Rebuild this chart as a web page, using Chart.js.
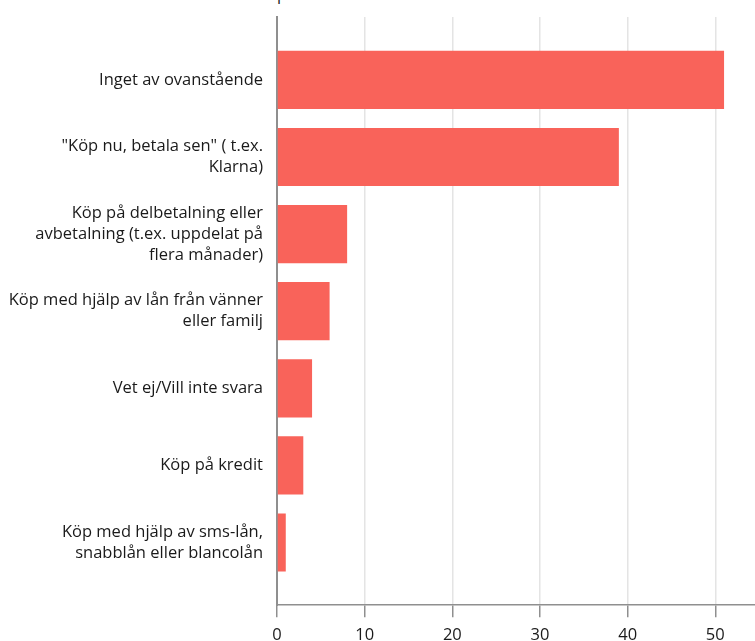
<!DOCTYPE html>
<html lang="sv">
<head>
    <meta charset="UTF-8">
    <title>Köpsätt</title>
    <script src="https://cdn.jsdelivr.net/npm/chart.js"></script>
    <style>
        html, body { margin: 0; padding: 0; background: #fff; overflow: hidden; }
        body { width: 755px; height: 641px; position: relative; font-family: "Open Sans", Arial, sans-serif; }
        #unit { position: absolute; left: 277px; top: -16px; font-size: 16px; line-height: 20px; color: #222; }
        #wrap { position: absolute; left: 0; top: 0; width: 755px; height: 660px; }
    </style>
</head>
<body>
    <div id="unit">procent</div>
    <div id="wrap"><canvas id="answersChart"></canvas></div>

    <script>
        // svarsalternativ, uppifrån och ned
        const categories = [
            ['Inget av ovanstående'],
            ['"Köp nu, betala sen" ( t.ex.', 'Klarna)'],
            ['Köp på delbetalning eller', 'avbetalning (t.ex. uppdelat på', 'flera månader)'],
            ['Köp med hjälp av lån från vänner', 'eller familj'],
            ['Vet ej/Vill inte svara'],
            ['Köp på kredit'],
            ['Köp med hjälp av sms-lån,', 'snabblån eller blancolån']
        ];
        // andel i procent
        const shares = [51, 39, 8, 6, 4, 3, 1];
        const xTicks = [0, 10, 20, 30, 40, 50];

        const barColor = '#f9635a';
        const axisColor = '#8f8f8f';
        const textColor = '#1a1a1a';
        const labelFont = '"Open Sans", Arial, sans-serif';

        const points = shares.map((v, i) => ({ x: v, y: i }));

        const ctx = document.getElementById('answersChart').getContext('2d');
        new Chart(ctx, {
            type: 'bar',
            data: {
                datasets: [{
                    data: points,
                    backgroundColor: barColor,
                    borderWidth: 0,
                    categoryPercentage: 1,
                    barPercentage: 0.755
                }]
            },
            options: {
                indexAxis: 'y',
                responsive: true,
                maintainAspectRatio: false,
                animation: false,
                layout: { padding: { top: 17, right: 0, bottom: 7, left: 0 } },
                plugins: {
                    legend: { display: false },
                    tooltip: { enabled: false }
                },
                scales: {
                    x: {
                        type: 'linear',
                        min: 0,
                        max: 54.53,
                        afterBuildTicks: s => { s.ticks = xTicks.map(v => ({ value: v })); },
                        grid: {
                            color: '#e4e4e4',
                            lineWidth: 1.5,
                            tickColor: axisColor,
                            tickLength: 12,
                            drawTicks: true
                        },
                        border: { display: true, color: axisColor, width: 1.5 },
                        ticks: {
                            color: textColor,
                            padding: 8,
                            font: { family: labelFont, size: 16.5 }
                        }
                    },
                    y: {
                        type: 'linear',
                        reverse: true,
                        offset: false,
                        min: -0.816,
                        max: 6.813,
                        afterBuildTicks: s => { s.ticks = categories.map((_, i) => ({ value: i })); },
                        afterFit: s => {
                            s.width = 277;
                            s.paddingTop = 0;
                            s.paddingBottom = 0;
                        },
                        grid: { display: false, drawTicks: false, offset: false },
                        border: { display: true, color: axisColor, width: 2 },
                        ticks: {
                            color: textColor,
                            padding: 14,
                            autoSkip: false,
                            callback: v => categories[v],
                            font: { family: labelFont, size: 16.5, lineHeight: 1.27 }
                        }
                    }
                }
            }
        });
    </script>
</body>
</html>
